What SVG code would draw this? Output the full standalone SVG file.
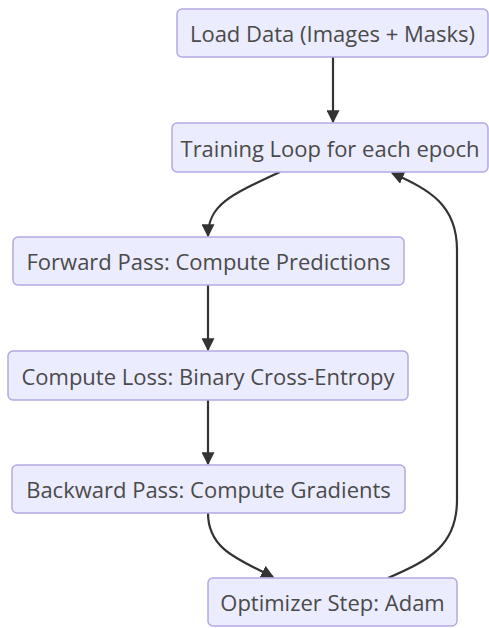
<svg xmlns="http://www.w3.org/2000/svg" width="489" height="628" viewBox="0 0 489 628">
<defs>
<style>
.node rect{fill:#ECECFF;stroke:#b3a8e4;stroke-width:1.5}
.node text{font-family:"Open Sans","Noto Sans",sans-serif;font-size:22px;fill:#4a4a4a;text-anchor:middle;dominant-baseline:central}
.edge{fill:none;stroke:#333;stroke-width:2.2;marker-end:url(#arr)}
</style>
<marker id="arr" viewBox="0 0 10 10" refX="9" refY="5" markerWidth="13" markerHeight="13" markerUnits="userSpaceOnUse" orient="auto">
<path d="M0,0 L10,5 L0,10 z" fill="#333"/>
</marker>
</defs>
<rect width="489" height="628" fill="#fff"/>
<g id="edges">
<path class="edge" d="M333,57 L333,122"/>
<path class="edge" d="M280,172 C230,195 208,205 208,236"/>
<path class="edge" d="M208,285 L208,350"/>
<path class="edge" d="M208,400 L208,464"/>
<path class="edge" d="M208,513 C208,550 240,560 273,577"/>
<path class="edge" d="M388,578 C430,560 457,545 457,500 L457,250 C457,205 430,190 392,173"/>
</g>
<g id="n1" class="node"><rect x="177" y="9" width="311" height="48" rx="5"/><text x="332.5" y="33">Load Data (Images + Masks)</text></g>
<g id="n2" class="node"><rect x="172" y="123" width="316" height="49" rx="5"/><text x="330" y="147.5">Training Loop for each epoch</text></g>
<g id="n3" class="node"><rect x="13" y="237" width="391" height="48" rx="5"/><text x="208.5" y="261">Forward Pass: Compute Predictions</text></g>
<g id="n4" class="node"><rect x="8" y="351" width="400" height="49" rx="5"/><text x="208" y="375.5">Compute Loss: Binary Cross-Entropy</text></g>
<g id="n5" class="node"><rect x="12" y="465" width="393" height="48" rx="5"/><text x="208.5" y="489">Backward Pass: Compute Gradients</text></g>
<g id="n6" class="node"><rect x="208" y="578" width="249" height="48" rx="5"/><text x="332.5" y="602">Optimizer Step: Adam</text></g>
</svg>
